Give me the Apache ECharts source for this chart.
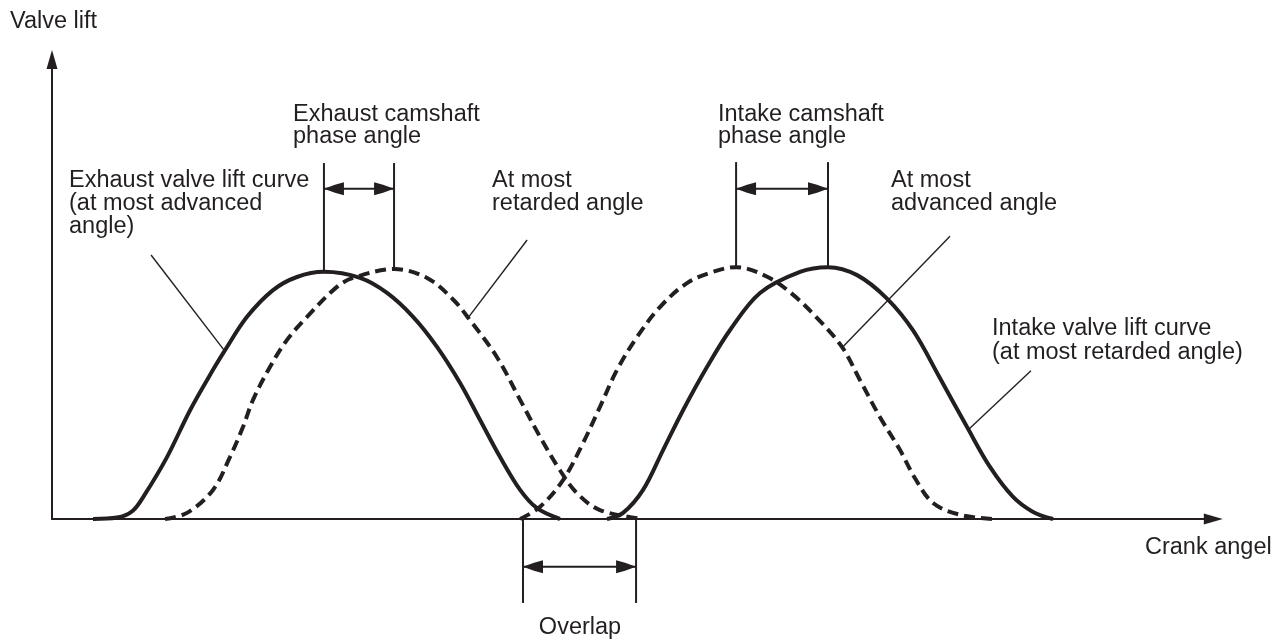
<!DOCTYPE html>
<html>
<head>
<meta charset="utf-8">
<title>Valve lift vs crank angle</title>
<script src="https://cdn.jsdelivr.net/npm/echarts@6/dist/echarts.min.js"></script>
<style>
  html, body { margin: 0; padding: 0; background: #ffffff; }
  #chart { width: 1288px; height: 642px; }
</style>
</head>
<body>
<div id="chart"></div>
<script>
// Valve lift curves: [crank angle (deg), lift (relative units)]
const exhaustAdvanced = [
  [25.2, 0], [40.0, 0.3], [49.5, 1.7], [57.0, 5.2], [70.7, 13.2], [84.9, 23.2], [99.0, 31.8],
  [106.4, 36.0], [119.9, 43.1], [135.9, 48.8], [150.6, 51.6], [167.2, 52.7],
  [189.4, 51.4], [206.0, 48.2], [222.0, 43.1], [236.7, 36.7], [250.9, 29.0],
  [263.2, 21.1], [275.5, 13.2], [287.8, 6.2], [298.2, 2.3], [312.3, 0]
];
const exhaustRetarded = [
  [69.5, 0], [83.0, 1.3], [99.0, 6.2], [109.4, 13.2], [117.4, 19.6], [123.6, 25.4],
  [134.0, 32.4], [144.5, 38.2], [156.8, 43.1], [175.2, 49.5], [185.1, 51.4],
  [210.3, 53.3], [230.6, 51.4], [246.6, 46.8], [257.0, 42.4], [273.6, 34.5],
  [287.8, 25.4], [300.1, 17.5], [312.3, 10.4], [322.8, 5.5], [336.9, 1.9], [363.4, 0]
];
const intakeAdvanced = [
  [287.8, 0], [300.1, 2.6], [314.2, 8.3], [326.5, 16.2], [336.9, 23.9], [347.4, 31.8],
  [359.7, 38.8], [373.8, 45.2], [390.4, 50.3], [406.4, 52.7], [420.6, 53.7],
  [440.0, 51.6], [455.0, 48.0], [470.0, 43.0], [485.7, 36.7], [496.8, 29.6],
  [509.1, 21.7], [521.4, 14.7], [530.6, 8.7], [541.7, 3.4], [558.3, 0.9], [578.6, 0]
];
const intakeRetarded = [
  [341.2, 0], [351.1, 1.3], [363.4, 6.2], [375.7, 14.7], [388.0, 23.2], [402.7, 32.4],
  [416.9, 40.3], [435.3, 48.2], [459.9, 52.7], [477.1, 53.7], [495.0, 52.0],
  [513.4, 47.0], [529.4, 40.2], [546.0, 30.0], [562.6, 19.6], [576.7, 11.1],
  [590.9, 4.7], [603.2, 1.5], [615.5, 0]
];

// Annotation segments: [x1, y1, x2, y2] in the same data units
const phaseRules = [
  [167.2, 75.9, 167.2, 52.7], [210.3, 75.9, 210.3, 53.3],
  [420.6, 76.1, 420.6, 53.7], [477.1, 76.1, 477.1, 53.7],
  [289.6, 0, 289.6, -17.9], [359.1, 0, 359.1, -17.9]
];
const dimensionArrows = [
  [167.2, 70.4, 210.3, 70.4],
  [420.6, 70.4, 477.1, 70.4],
  [289.6, -10.2, 359.1, -10.2]
];
const leaderLines = [
  [60.9, 56.3, 105.8, 36.0],
  [292.1, 59.5, 255.8, 42.9],
  [552.1, 60.3, 485.7, 36.5],
  [601.9, 31.6, 563.2, 19.0]
];

const INK = '#231f20';
const FONT = '"Liberation Sans", Arial, Helvetica, sans-serif';

const chart = echarts.init(document.getElementById('chart'), null, { renderer: 'canvas' });

// kind: 0 leader, 1 rule, 2 double arrow
const annotationData = []
  .concat(leaderLines.map(s => s.concat([0])))
  .concat(phaseRules.map(s => s.concat([1])))
  .concat(dimensionArrows.map(s => s.concat([2])));

function arrowHead(tip, from, len, half) {
  const dx = tip[0] - from[0], dy = tip[1] - from[1];
  const d = Math.sqrt(dx * dx + dy * dy) || 1;
  const ux = dx / d, uy = dy / d, nx = -uy, ny = ux;
  const bx = tip[0] - ux * len, by = tip[1] - uy * len;
  const mx = tip[0] - ux * len * 0.55, my = tip[1] - uy * len * 0.55;
  return {
    type: 'polygon',
    shape: { points: [
      tip,
      [mx + nx * half * 0.62, my + ny * half * 0.62],
      [bx + nx * half, by + ny * half],
      [bx, by],
      [bx - nx * half, by - ny * half],
      [mx - nx * half * 0.62, my - ny * half * 0.62]
    ] },
    style: { fill: INK }
  };
}

function renderAnnotation(params, api) {
  const kind = api.value(4);
  const a = api.coord([api.value(0), api.value(1)]);
  const b = api.coord([api.value(2), api.value(3)]);
  const children = [{
    type: 'line',
    shape: { x1: a[0], y1: a[1], x2: b[0], y2: b[1] },
    style: { stroke: INK, lineWidth: kind === 0 ? 1.4 : 2 }
  }];
  if (kind === 2) {
    children.push(arrowHead(a, b, 20, 6.5));
    children.push(arrowHead(b, a, 20, 6.5));
  }
  return { type: 'group', children: children };
}

function curve(name, data, dashed) {
  return {
    name: name,
    type: 'line',
    data: data,
    showSymbol: false,
    smooth: 0.35,
    silent: true,
    z: 3,
    lineStyle: { color: INK, width: 4, type: dashed ? [11, 6] : 'solid', cap: 'butt' }
  };
}

function label(text, x, y, align) {
  return {
    type: 'text',
    x: x, y: y,
    silent: true,
    style: {
      text: text,
      fill: INK,
      font: '23.5px ' + FONT,
      align: align || 'left',
      verticalAlign: 'middle'
    }
  };
}

chart.setOption({
  animation: false,
  backgroundColor: '#ffffff',
  grid: { left: 52, top: 59.4, right: 74.7, bottom: 123, containLabel: false },
  xAxis: {
    type: 'value', min: 0, max: 714,
    axisLine: { show: true, onZero: false, symbol: ['none', 'triangle'], symbolSize: [11, 19],
      lineStyle: { color: INK, width: 2 } },
    axisTick: { show: false }, axisLabel: { show: false }, splitLine: { show: false }
  },
  yAxis: {
    type: 'value', min: 0, max: 98,
    axisLine: { show: true, onZero: false, symbol: ['none', 'triangle'], symbolSize: [11, 19],
      lineStyle: { color: INK, width: 2 } },
    axisTick: { show: false }, axisLabel: { show: false }, splitLine: { show: false }
  },
  series: [
    curve('Exhaust valve lift (most advanced)', exhaustAdvanced, false),
    curve('Exhaust valve lift (most retarded)', exhaustRetarded, true),
    curve('Intake valve lift (most advanced)', intakeAdvanced, true),
    curve('Intake valve lift (most retarded)', intakeRetarded, false),
    {
      type: 'custom',
      renderItem: renderAnnotation,
      data: annotationData,
      encode: { x: [0, 2], y: [1, 3] },
      clip: false,
      silent: true,
      z: 2
    }
  ],
  graphic: [
    label('Valve lift', 10, 22),
    label('Exhaust camshaft', 293, 115),
    label('phase angle', 293, 137),
    label('Exhaust valve lift curve', 69, 181),
    label('(at most advanced', 69, 204),
    label('angle)', 69, 227),
    label('At most', 492, 181),
    label('retarded angle', 492, 204),
    label('Intake camshaft', 718, 115),
    label('phase angle', 718, 137),
    label('At most', 891, 181),
    label('advanced angle', 891, 204),
    label('Intake valve lift curve', 992, 329),
    label('(at most retarded angle)', 992, 353),
    label('Crank angel', 1145, 548),
    label('Overlap', 580, 628, 'center')
  ]
});
</script>
</body>
</html>
